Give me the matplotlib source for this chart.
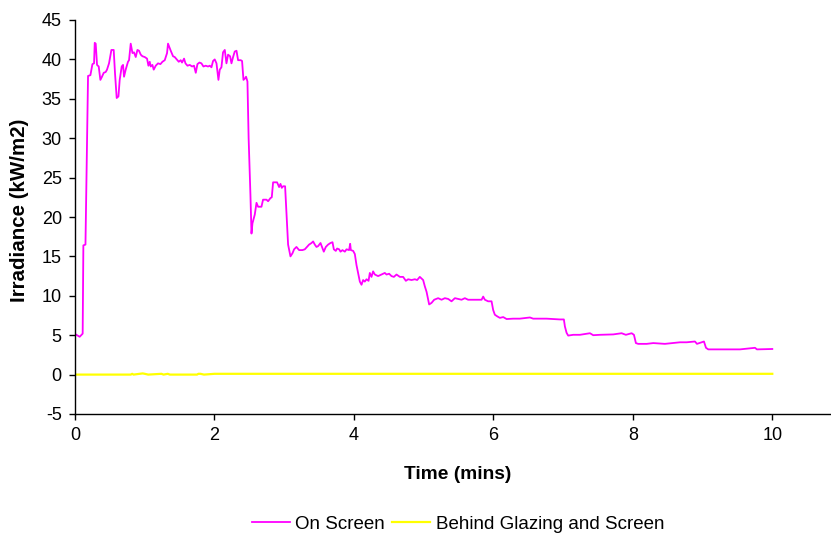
import matplotlib
matplotlib.use("Agg")
import matplotlib.pyplot as plt

plt.rcParams["font.family"] = ["Liberation Sans", "DejaVu Sans"]
plt.rcParams["axes.unicode_minus"] = False

# On Screen irradiance (kW/m2) against time (mins)
screen_t = [
    0.01, 0.067, 0.10, 0.11, 0.12, 0.15, 0.187, 0.221, 0.25, 0.273, 0.283, 0.297, 0.316, 0.34,
    0.364, 0.387, 0.412, 0.44, 0.459, 0.488, 0.522, 0.555, 0.574, 0.598, 0.623, 0.641, 0.67,
    0.689, 0.703, 0.727, 0.76, 0.775, 0.799, 0.824, 0.846, 0.871, 0.895, 0.918, 0.943, 0.967,
    1.0, 1.033, 1.053, 1.072, 1.086, 1.11, 1.129, 1.158, 1.191, 1.225, 1.254, 1.287, 1.32,
    1.334, 1.359, 1.373, 1.406, 1.43, 1.459, 1.488, 1.516, 1.535, 1.564, 1.584, 1.613, 1.646,
    1.679, 1.707, 1.732, 1.756, 1.785, 1.813, 1.842, 1.875, 1.908, 1.933, 1.957, 1.98, 2.004,
    2.029, 2.057, 2.076, 2.1, 2.123, 2.148, 2.172, 2.195, 2.224, 2.244, 2.267, 2.291, 2.316,
    2.339, 2.377, 2.396, 2.416, 2.439, 2.453, 2.473, 2.49, 2.516, 2.531, 2.545, 2.578, 2.603,
    2.626, 2.674, 2.697, 2.746, 2.769, 2.803, 2.822, 2.841, 2.898, 2.927, 2.947, 2.966, 2.984,
    3.013, 3.033, 3.056, 3.09, 3.119, 3.142, 3.176, 3.214, 3.262, 3.296, 3.357, 3.392, 3.415,
    3.439, 3.463, 3.486, 3.521, 3.55, 3.568, 3.597, 3.63, 3.664, 3.693, 3.712, 3.74, 3.759,
    3.788, 3.808, 3.836, 3.87, 3.894, 3.931, 3.946, 3.956, 3.989, 4.013, 4.037, 4.06, 4.085,
    4.109, 4.132, 4.156, 4.181, 4.21, 4.228, 4.252, 4.275, 4.3, 4.347, 4.396, 4.443, 4.468,
    4.505, 4.539, 4.573, 4.611, 4.659, 4.706, 4.745, 4.778, 4.826, 4.874, 4.907, 4.945, 4.97,
    4.993, 5.017, 5.042, 5.079, 5.113, 5.151, 5.208, 5.257, 5.304, 5.352, 5.4, 5.448, 5.495,
    5.544, 5.591, 5.638, 5.71, 5.782, 5.831, 5.854, 5.878, 5.925, 5.974, 5.997, 6.021, 6.054,
    6.093, 6.141, 6.19, 6.284, 6.38, 6.476, 6.524, 6.571, 6.667, 6.763, 6.858, 6.954, 7.011,
    7.026, 7.05, 7.073, 7.145, 7.241, 7.385, 7.432, 7.528, 7.719, 7.839, 7.9, 7.983, 8.016,
    8.044, 8.077, 8.198, 8.293, 8.46, 8.676, 8.772, 8.891, 8.92, 8.987, 9.02, 9.049, 9.082,
    9.25, 9.537, 9.752, 9.78, 10.0,
]
screen_v = [
    5.1, 4.8, 5.1, 5.2, 16.4, 16.5, 37.9, 38.0, 39.4, 39.5, 42.1, 42.0, 39.3, 39.1,
    37.4, 37.8, 38.3, 38.4, 38.7, 39.5, 41.2, 41.2, 38.2, 35.1, 35.3, 37.4, 39.1,
    39.3, 37.8, 38.7, 39.7, 39.9, 42.0, 40.8, 40.9, 40.3, 41.2, 41.1, 40.6, 40.4,
    40.3, 40.1, 39.2, 39.7, 39.1, 39.3, 38.7, 39.2, 39.5, 39.4, 39.7, 39.9, 40.8,
    42.0, 41.4, 41.1, 40.4, 40.3, 40.0, 39.7, 39.9, 39.6, 40.1, 39.5, 39.2, 39.3,
    39.1, 39.2, 38.3, 39.4, 39.6, 39.5, 39.1, 39.2, 39.1, 39.2, 39.0, 39.8, 40.0,
    39.5, 37.4, 38.7, 39.0, 40.9, 41.2, 39.5, 40.6, 40.4, 39.5, 40.3, 41.0, 41.1,
    39.9, 39.9, 39.8, 37.4, 37.6, 37.8, 37.2, 30.0, 22.8, 17.9, 19.2, 20.3, 21.8,
    21.3, 21.3, 22.2, 22.2, 22.0, 22.4, 22.5, 24.4, 24.4, 23.8, 24.2, 23.7, 23.9,
    23.9, 20.5, 16.5, 15.0, 15.4, 15.9, 16.2, 15.8, 15.8, 15.9, 16.5, 16.7, 16.9,
    16.5, 16.2, 16.3, 16.7, 16.0, 15.6, 16.2, 16.5, 16.7, 16.8, 15.9, 15.7, 16.0,
    15.9, 15.6, 15.8, 15.6, 15.9, 15.8, 16.6, 15.8, 15.7, 15.3, 13.9, 12.9, 11.8,
    11.4, 12.0, 11.8, 12.1, 11.9, 12.9, 12.4, 13.1, 12.7, 12.5, 12.7, 12.9, 12.7,
    12.8, 12.5, 12.4, 12.7, 12.4, 12.4, 11.9, 12.1, 12.0, 12.1, 12.0, 12.4, 12.2,
    12.0, 11.2, 10.5, 8.9, 9.1, 9.5, 9.7, 9.5, 9.7, 9.6, 9.3, 9.7, 9.6,
    9.5, 9.7, 9.5, 9.5, 9.5, 9.5, 9.9, 9.5, 9.3, 9.3, 8.2, 7.6, 7.4,
    7.2, 7.3, 7.05, 7.1, 7.1, 7.2, 7.25, 7.1, 7.1, 7.1, 7.05, 7.0, 7.0,
    6.1, 5.3, 4.95, 5.05, 5.05, 5.25, 5.0, 5.05, 5.1, 5.25, 5.05, 5.25, 5.05,
    4.0, 3.9, 3.9, 4.0, 3.9, 4.1, 4.1, 4.2, 3.9, 4.1, 4.2, 3.4, 3.2,
    3.2, 3.2, 3.4, 3.2, 3.25,
]

# Behind Glazing and Screen
behind_t = [0.0, 0.8, 0.82, 0.84, 0.97, 1.0, 1.05, 1.24, 1.27, 1.33, 1.36, 1.75, 1.77,
            1.8, 1.85, 2.0, 2.5, 4.0, 6.0, 8.0, 10.0]
behind_v = [0.0, 0.0, 0.1, 0.0, 0.15, 0.1, 0.0, 0.1, 0.0, 0.1, 0.0, 0.0, 0.1,
            0.1, 0.0, 0.1, 0.1, 0.1, 0.1, 0.1, 0.1]

x_ticks = [0, 2, 4, 6, 8, 10]
y_ticks = list(range(-5, 50, 5))

fig = plt.figure(figsize=(8.31, 5.33), dpi=100)
ax = fig.add_axes([75 / 831, 1 - 414 / 533, 1 - 75 / 831, (414 - 20) / 533])

ax.plot(screen_t, screen_v, color="#FF00FF", lw=1.3, label="On Screen")
ax.plot(behind_t, behind_v, color="#FFFF00", lw=1.6, label="Behind Glazing and Screen")

ax.set_xlim(0, 10.842)
ax.set_ylim(-5, 45)
ax.set_xticks(x_ticks)
ax.set_yticks(y_ticks)
ax.tick_params(direction="out", length=4.5, width=1.0, labelsize=13, colors="black")
ax.tick_params(axis="y", pad=5)
ax.tick_params(axis="x", pad=4.5)
for side in ("top", "right"):
    ax.spines[side].set_visible(False)
for side in ("left", "bottom"):
    ax.spines[side].set_linewidth(1.0)

ax.set_xlabel("Time (mins)", fontsize=13.8, fontweight="bold")
ax.xaxis.set_label_coords((458 - 75) / 756, (414 - 466) / 394)
ax.set_ylabel("Irradiance (kW/m2)", fontsize=14.8, fontweight="bold")
ax.yaxis.set_label_coords((20 - 75) / 756, (414 - 210) / 394)
ax.yaxis.label.set_verticalalignment("center")

fig.legend(loc="center", bbox_to_anchor=(458 / 831, 1 - 524 / 533), ncol=2, frameon=False,
           fontsize=13.5, handlelength=2.0, handletextpad=0.3, columnspacing=0.4,
           borderaxespad=0, borderpad=0)

fig.savefig("out.png", dpi=100)
